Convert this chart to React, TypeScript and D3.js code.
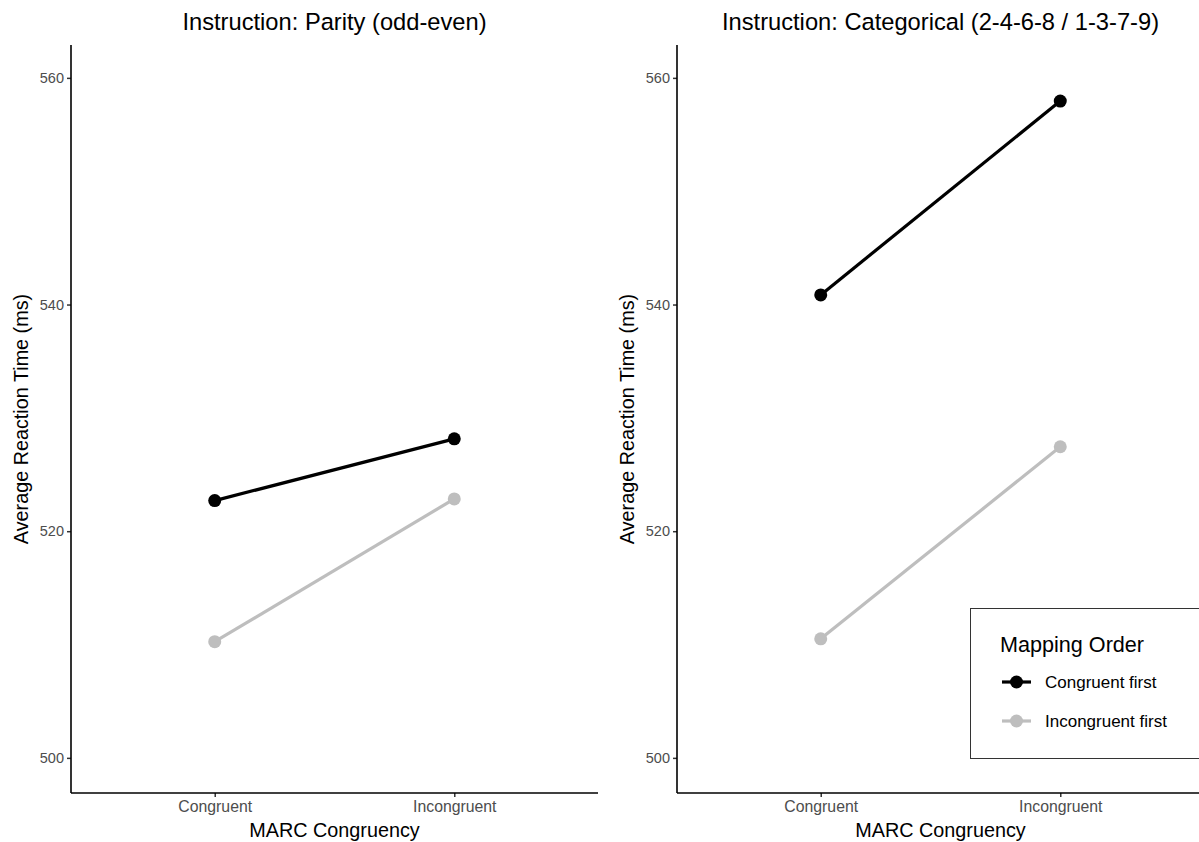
import React, { useEffect, useRef } from 'react';
import * as d3 from 'd3';

const categories = ['Congruent', 'Incongruent'];
const groups = ['Congruent first', 'Incongruent first'];
const groupColors = ['#000000', '#bebebe'];
const panelTitles = ['Instruction: Parity (odd-even)', 'Instruction: Categorical (2-4-6-8 / 1-3-7-9)'];
// values per panel, per group, per category
const parityCongruentFirst = [522.7, 528.15];
const parityIncongruentFirst = [510.25, 522.85];
const categoricalCongruentFirst = [540.85, 557.95];
const categoricalIncongruentFirst = [510.5, 527.45];
const yTicks = [500, 520, 540, 560];

const panelData = [
    [parityCongruentFirst, parityIncongruentFirst],
    [categoricalCongruentFirst, categoricalIncongruentFirst],
];

const FONT = '"Liberation Sans", Arial, sans-serif';

const App = () => {
    const ref = useRef<SVGSVGElement>(null);

    useEffect(() => {
        const svg = d3.select(ref.current);
        svg.selectAll('*').remove();

        const top = 45;
        const bottom = 793;
        const panelW = 527;
        const panelLefts = [71, 677];

        const y = d3.scaleLinear().domain([496.9, 562.9]).range([bottom, top]);

        panelLefts.forEach((left, pi) => {
            const x = d3.scalePoint<string>()
                .domain(categories)
                .range([left, left + panelW])
                .padding(0.6);

            const g = svg.append('g');

            // facet title
            g.append('text')
                .attr('x', left + panelW / 2)
                .attr('y', 30)
                .attr('text-anchor', 'middle')
                .attr('font-family', FONT)
                .attr('font-size', 23.7)
                .attr('fill', '#000')
                .text(panelTitles[pi]);

            // y axis
            const yAxis = g.append('g')
                .attr('transform', `translate(${left},0)`)
                .call(d3.axisLeft(y).tickValues(yTicks).tickSize(4).tickPadding(3).tickFormat(d3.format('d')));
            yAxis.select('.domain').remove();
            yAxis.selectAll('line').attr('stroke', '#333').attr('stroke-width', 1.5);
            yAxis.selectAll('text')
                .attr('font-family', FONT)
                .attr('font-size', 14.5)
                .attr('fill', '#4d4d4d');

            // x axis
            const xAxis = g.append('g')
                .attr('transform', `translate(0,${bottom})`)
                .call(d3.axisBottom(x).tickSize(4).tickPadding(4));
            xAxis.select('.domain').remove();
            xAxis.selectAll('line').attr('stroke', '#333').attr('stroke-width', 1.5);
            xAxis.selectAll('text')
                .attr('font-family', FONT)
                .attr('font-size', 15.8)
                .attr('fill', '#4d4d4d');

            // axis lines
            g.append('line')
                .attr('x1', left).attr('x2', left)
                .attr('y1', top).attr('y2', bottom)
                .attr('stroke', '#000').attr('stroke-width', 1.6);
            g.append('line')
                .attr('x1', left).attr('x2', left + panelW)
                .attr('y1', bottom).attr('y2', bottom)
                .attr('stroke', '#000').attr('stroke-width', 1.6);

            // axis titles
            g.append('text')
                .attr('x', left + panelW / 2)
                .attr('y', 837)
                .attr('text-anchor', 'middle')
                .attr('font-family', FONT)
                .attr('font-size', 19.8)
                .text('MARC Congruency');
            g.append('text')
                .attr('transform', `translate(${left - 43},${(top + bottom) / 2}) rotate(-90)`)
                .attr('text-anchor', 'middle')
                .attr('font-family', FONT)
                .attr('font-size', 19.8)
                .text('Average Reaction Time (ms)');

            // series
            const line = d3.line<number>()
                .x((_, i) => x(categories[i]) as number)
                .y(d => y(d));

            [1, 0].forEach(gi => {
                const vals = panelData[pi][gi];
                g.append('path')
                    .datum(vals)
                    .attr('fill', 'none')
                    .attr('stroke', groupColors[gi])
                    .attr('stroke-width', 3.2)
                    .attr('d', line);
                g.selectAll(null)
                    .data(vals)
                    .enter().append('circle')
                    .attr('cx', (_, i) => x(categories[i]) as number)
                    .attr('cy', d => y(d))
                    .attr('r', 6.5)
                    .attr('fill', groupColors[gi]);
            });
        });

        // legend
        const lg = svg.append('g');
        lg.append('rect')
            .attr('x', 970.5).attr('y', 608.5)
            .attr('width', 240).attr('height', 150)
            .attr('fill', '#fff')
            .attr('stroke', '#333').attr('stroke-width', 1);
        lg.append('text')
            .attr('x', 1000).attr('y', 652)
            .attr('font-family', FONT)
            .attr('font-size', 21.6)
            .text('Mapping Order');
        groups.forEach((name, i) => {
            const ky = 682 + i * 39;
            lg.append('line')
                .attr('x1', 1002).attr('x2', 1031)
                .attr('y1', ky).attr('y2', ky)
                .attr('stroke', groupColors[i]).attr('stroke-width', 3.2);
            lg.append('circle')
                .attr('cx', 1016.5).attr('cy', ky).attr('r', 6.5)
                .attr('fill', groupColors[i]);
            lg.append('text')
                .attr('x', 1045).attr('y', ky + 6)
                .attr('font-family', FONT)
                .attr('font-size', 17)
                .text(name);
        });
    }, []);

    return (
        <svg
            ref={ref}
            width={1199}
            height={842}
            style={{ position: 'absolute', left: 0, top: 0, background: '#fff' }}
        />
    );
};

export default App;
